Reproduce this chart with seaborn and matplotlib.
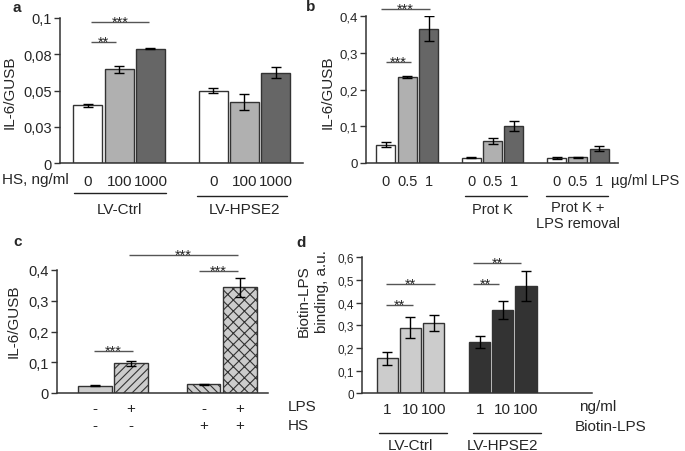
import numpy as np
import pandas as pd
import matplotlib
matplotlib.use("Agg")
import matplotlib.pyplot as plt
import seaborn as sns

sns.set_theme(style="ticks")
plt.rcParams['font.family'] = ['Liberation Sans', 'DejaVu Sans']
plt.rcParams['hatch.linewidth'] = 0.8

# ---------------- data ----------------
# Panel a
a_groups = ["LV-Ctrl", "LV-HPSE2"]
a_doses = ["0", "100", "1000"]
a_ctrl = [0.0398, 0.0646, 0.0788]
a_ctrl_err = [0.0009, 0.0025, 0.0005]
a_hpse = [0.0499, 0.0419, 0.0621]
a_hpse_err = [0.0016, 0.0054, 0.0038]
a_yticks = [0, 0.025, 0.05, 0.075, 0.1]
a_yticklabels = ["0", "0,03", "0,05", "0,08", "0,1"]

# Panel b
b_groups = ["", "Prot K", "Prot K +\nLPS removal"]
b_doses = ["0", "0.5", "1"]
b_none = [0.050, 0.2345, 0.366]
b_none_err = [0.007, 0.002, 0.034]
b_protk = [0.0145, 0.060, 0.101]
b_protk_err = [0.001, 0.0095, 0.013]
b_removal = [0.013, 0.0155, 0.039]
b_removal_err = [0.003, 0.001, 0.006]
b_yticks = [0, 0.1, 0.2, 0.3, 0.4]
b_yticklabels = ["0", "0,1", "0,2", "0,3", "0,4"]

# Panel c
c_lps = ["-", "+", "-", "+"]
c_hs = ["-", "-", "+", "+"]
c_vals = [0.0238, 0.0965, 0.028, 0.344]
c_err = [0.001, 0.008, 0.0015, 0.031]
c_yticks = [0, 0.1, 0.2, 0.3, 0.4]
c_yticklabels = ["0", "0,1", "0,2", "0,3", "0,4"]

# Panel d
d_groups = ["LV-Ctrl", "LV-HPSE2"]
d_doses = ["1", "10", "100"]
d_ctrl = [0.154, 0.289, 0.310]
d_ctrl_err = [0.027, 0.047, 0.037]
d_hpse = [0.225, 0.367, 0.472]
d_hpse_err = [0.026, 0.040, 0.066]
d_yticks = [0, 0.1, 0.2, 0.3, 0.4, 0.5, 0.6]
d_yticklabels = ["0", "0,1", "0,2", "0,3", "0,4", "0,5", "0,6"]

# ---------------- layout ----------------
W, H = 685, 452
fig = plt.figure(figsize=(W / 100, H / 100), dpi=100)

EDGE = "#333333"
SIG = "#555555"


def px_axes(l, r, t, b):
    ax = fig.add_axes([l / W, 1 - b / H, (r - l) / W, (b - t) / H])
    ax._px = (l, r, t, b)
    return ax


def ay(ax, ypx):
    l, r, t, b = ax._px
    return (b - ypx) / (b - t)


def ftext(x, y, s, **kw):
    fig.text(x / W, 1 - y / H, s, **kw)


def style_axes(ax, yticks, yticklabels, ylim, xlim, ysize):
    ax.set_ylim(*ylim)
    ax.set_xlim(*xlim)
    ax.set_yticks(yticks)
    ax.set_yticklabels(yticklabels, fontsize=ysize)
    sns.despine(ax=ax)
    for s in ["left", "bottom"]:
        ax.spines[s].set_color(EDGE)
        ax.spines[s].set_linewidth(1.1)
    ax.tick_params(axis="y", length=4, width=1, color=EDGE, pad=2)
    ax.tick_params(axis="x", length=0)
    ax.set_xlabel("")
    ax.set_ylabel("")
    ax.patch.set_alpha(0)


def bars(ax, labels, vals, errs, order, palette, width):
    df = pd.DataFrame({"cond": labels, "val": vals})
    sns.barplot(data=df, x="cond", y="val", hue="cond", order=order,
                palette=palette, legend=False, errorbar=None, width=width,
                edgecolor=EDGE, linewidth=1.0, ax=ax)
    pos = [order.index(c) for c in labels]
    ax.errorbar(pos, vals, yerr=errs, fmt="none", ecolor="black",
                elinewidth=1.0, capsize=3.5, capthick=1.0, zorder=5)
    return pos


def sig(ax, x0, x1, y, txt, size=10.5):
    ax.plot([x0, x1], [y, y], color=SIG, lw=1.0, clip_on=False,
            solid_capstyle="butt")
    ax.annotate(txt, xy=((x0 + x1) / 2, y), xytext=(0, -2.6),
                textcoords="offset points", ha="center", va="baseline",
                fontsize=size, color="#222222", annotation_clip=False)


def group_line(ax, x0, x1, ypx):
    ax.plot([x0, x1], [ay(ax, ypx)] * 2, color="#222222", lw=1.0,
            transform=ax.get_xaxis_transform(), clip_on=False)


def xtext(ax, x, ypx, s, size=11, **kw):
    ax.text(x, ay(ax, ypx), s, transform=ax.get_xaxis_transform(),
            ha=kw.pop("ha", "center"), va=kw.pop("va", "center"),
            fontsize=size, **kw)


# ---------------- panel a ----------------
axa = px_axes(60, 303, 19, 164)
a_lab = [f"{g} {d}" for g in a_groups for d in a_doses]
a_order = a_lab[:3] + ["gap"] + a_lab[3:]
a_cols = ["#ffffff", "#b0b0b0", "#666666"]
a_pal = {l: a_cols[i % 3] for i, l in enumerate(a_lab)}
a_pos = bars(axa, a_lab, a_ctrl + a_hpse, a_ctrl_err + a_hpse_err,
             a_order, a_pal, 0.92)
style_axes(axa, a_yticks, a_yticklabels, (0, 0.1), (-0.89, 6.87), 10.5)
axa.set_xticks(a_pos)
axa.set_xticklabels(a_doses * 2, fontsize=11)
axa.tick_params(axis="x", pad=8)
sig(axa, a_pos[0] + 0.1, a_pos[1] - 0.1, 0.0834, "**")
sig(axa, a_pos[0] + 0.1, a_pos[2] - 0.06, 0.0972, "***")
group_line(axa, a_pos[0] - 0.44, a_pos[2] + 0.48, 194)
group_line(axa, a_pos[3] - 0.51, a_pos[5] + 0.37, 197)
xtext(axa, a_pos[1], 210, a_groups[0])
xtext(axa, a_pos[4], 210, a_groups[1])
ftext(69, 180, "HS, ng/ml", ha="right", va="center", fontsize=11)
ftext(10, 92, "IL-6/GUSB", rotation=90, ha="center", va="center", fontsize=11)

# ---------------- panel b ----------------
axb = px_axes(366, 618, 17.3, 164)
b_lab = [f"{g}|{d}" for g in ["none", "pk", "rem"] for d in b_doses]
b_order = b_lab[:3] + ["gap1"] + b_lab[3:6] + ["gap2"] + b_lab[6:]
b_pal = {l: a_cols[i % 3] for i, l in enumerate(b_lab)}
b_pos = bars(axb, b_lab, b_none + b_protk + b_removal,
             b_none_err + b_protk_err + b_removal_err, b_order, b_pal, 0.89)
style_axes(axb, b_yticks, b_yticklabels, (0, 0.4), (-0.93, 10.88), 9.5)
axb.set_xticks(b_pos)
axb.set_xticklabels(b_doses * 3, fontsize=10.5)
axb.tick_params(axis="x", pad=8)
sig(axb, b_pos[0], b_pos[1] + 0.16, 0.2746, "***")
sig(axb, b_pos[0] - 0.22, b_pos[2] + 0.07, 0.42, "***")
group_line(axb, b_pos[3] - 0.28, b_pos[5] + 0.6, 196.7)
group_line(axb, b_pos[6] - 0.49, b_pos[8] + 0.42, 196.7)
xtext(axb, b_pos[4], 210, "Prot K", size=10.5)
xtext(axb, b_pos[7], 216, b_groups[2], size=10.5, linespacing=1.15)
ftext(611, 181, "µg/ml LPS", ha="left", va="center", fontsize=10.5)
ftext(328, 92, "IL-6/GUSB", rotation=90, ha="center", va="center", fontsize=11)

# ---------------- panel c ----------------
axc = px_axes(56.7, 268.3, 271, 394)
c_lab = [f"LPS{l} HS{h}" for l, h in zip(c_lps, c_hs)]
c_order = c_lab[:2] + ["gap"] + c_lab[2:]
c_pal = {l: "#cccccc" for l in c_lab}
c_pos = bars(axc, c_lab, c_vals, c_err, c_order, c_pal, 0.92)
c_hatch = {c_lab[0]: "", c_lab[1]: "////", c_lab[2]: "\\\\\\\\", c_lab[3]: "xxx"}
for p in axc.patches:
    idx = int(round(p.get_x() + p.get_width() / 2))
    if 0 <= idx < len(c_order) and c_order[idx] in c_hatch:
        p.set_hatch(c_hatch[c_order[idx]])
style_axes(axc, c_yticks, c_yticklabels, (0, 0.4), (-1.05, 4.78), 10.5)
axc.set_xticks(c_pos)
axc.set_xticklabels(c_lps, fontsize=11)
axc.tick_params(axis="x", pad=6)
for p, h in zip(c_pos, c_hs):
    xtext(axc, p, 426, h)
ftext(288, 406.7, "LPS", ha="left", va="center", fontsize=11)
ftext(288, 426, "HS", ha="left", va="center", fontsize=11)
sig(axc, c_pos[0] - 0.01, c_pos[1] + 0.04, 0.1376, "***")
sig(axc, c_pos[2] - 0.12, c_pos[3] - 0.06, 0.3977, "***")
sig(axc, c_pos[1] - 0.05, c_pos[3] - 0.06, 0.4478, "***")
ftext(14, 321, "IL-6/GUSB", rotation=90, ha="center", va="center", fontsize=11)

# ---------------- panel d ----------------
axd = px_axes(362, 592, 258.3, 394.3)
d_lab = [f"{g} {d}" for g in d_groups for d in d_doses]
d_order = d_lab[:3] + ["gap"] + d_lab[3:]
d_pal = {l: ("#cccccc" if i < 3 else "#333333") for i, l in enumerate(d_lab)}
d_pos = bars(axd, d_lab, d_ctrl + d_hpse, d_ctrl_err + d_hpse_err,
             d_order, d_pal, 0.93)
style_axes(axd, d_yticks, d_yticklabels, (0, 0.6), (-1.1, 8.87), 8.5)
axd.set_xticks(d_pos)
axd.set_xticklabels(d_doses * 2, fontsize=11)
axd.tick_params(axis="x", pad=6)
sig(axd, d_pos[0] - 0.04, d_pos[1] + 0.1, 0.391, "**")
sig(axd, d_pos[0] - 0.04, d_pos[2] + 0.07, 0.482, "**")
sig(axd, d_pos[3] - 0.3, d_pos[4] - 0.16, 0.482, "**")
sig(axd, d_pos[3] - 0.3, d_pos[5] - 0.2, 0.575, "**")
group_line(axd, d_pos[0] - 0.35, d_pos[2] + 0.6, 433.7)
group_line(axd, d_pos[3] - 0.3, d_pos[5] + 0.67, 433.7)
xtext(axd, d_pos[1], 446, d_groups[0])
xtext(axd, d_pos[4], 446, d_groups[1])
ftext(579, 407, "ng/ml", ha="left", va="center", fontsize=11)
ftext(575, 426.7, "Biotin-LPS", ha="left", va="center", fontsize=11)
ftext(304, 301, "Biotin-LPS", rotation=90, ha="center", va="center", fontsize=11)
ftext(322, 292, "binding, a.u.", rotation=90, ha="center", va="center", fontsize=11)

# panel letters
for x, y, s in [(17, 8, "a"), (311, 7, "b"), (18, 242, "c"), (301, 243, "d")]:
    ftext(x, y, s, ha="center", va="center", fontsize=11, fontweight="bold")

fig.savefig("out.png", dpi=100)
